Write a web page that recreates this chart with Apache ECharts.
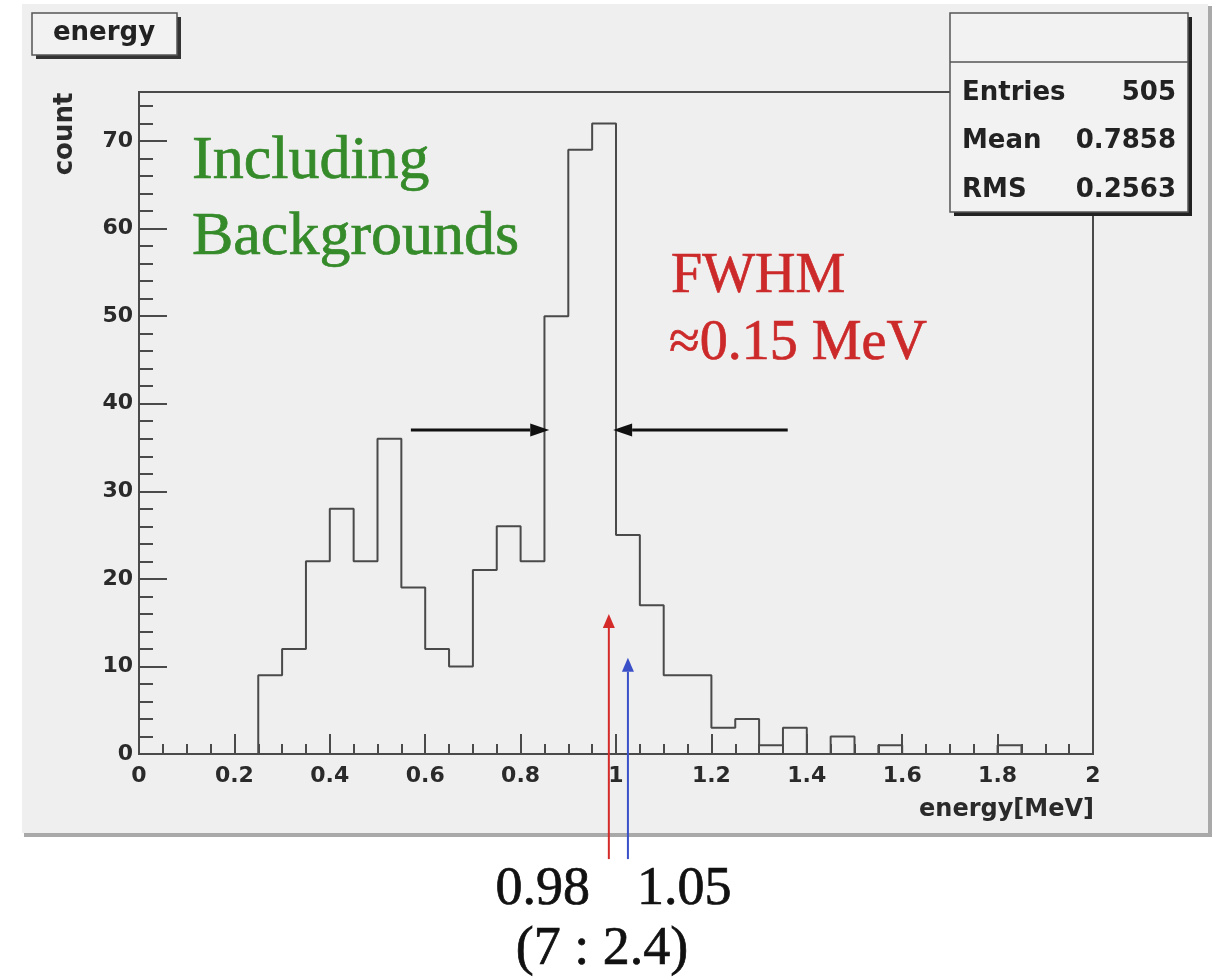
<!DOCTYPE html>
<html lang="en">
<head>
  <meta charset="UTF-8">
  <title>energy</title>
  <script src="https://cdn.jsdelivr.net/npm/echarts@6.0.0/dist/echarts.min.js"></script>
  <style>
    html, body { margin: 0; padding: 0; background: #ffffff; }
    #chart { width: 1217px; height: 978px; }
  </style>
</head>
<body>
  <div id="chart"></div>
  <script>
    // histogram: 40 bins of 0.05 MeV from 0 to 2
    const binLow = 0;
    const binWidth = 0.05;
    const counts = [
      0, 0, 0, 0, 0, 9, 12, 22, 28, 22,
      36, 19, 12, 10, 21, 26, 22, 50, 69, 72,
      25, 17, 9, 9, 3, 4, 1, 3, 0, 2,
      0, 1, 0, 0, 0, 0, 1, 0, 0, 0
    ];
    const xTickLabels = ['0', '0.2', '0.4', '0.6', '0.8', '1', '1.2', '1.4', '1.6', '1.8', '2'];
    const yTickLabels = ['0', '10', '20', '30', '40', '50', '60', '70'];
    const statsRows = [['Entries', '505'], ['Mean', '0.7858'], ['RMS', '0.2563']];

    // annotation arrows [x1, y1, x2, y2] in data units (tip at x2,y2)
    const fwhmArrows = [[0.57, 37, 0.86, 37], [1.36, 37, 0.994, 37]];
    const markerArrows = [[0.985, -12, 0.985, 16], [1.025, -12, 1.025, 11]];
    const markerColors = ['#d42a2a', '#3a4fc8'];

    const histData = [];
    counts.forEach((c, i) => histData.push([binLow + i * binWidth, c]));
    histData.push([binLow + counts.length * binWidth, counts[counts.length - 1]]);

    const axisColor = '#4a4a4a';
    const rootFont = 'DejaVu Sans';

    function arrowShape(a, b, headLen, headW) {
      const dx = b[0] - a[0], dy = b[1] - a[1];
      const len = Math.sqrt(dx * dx + dy * dy);
      const ux = dx / len, uy = dy / len;
      const base = [b[0] - ux * headLen, b[1] - uy * headLen];
      const nx = -uy * headW / 2, ny = ux * headW / 2;
      return { base: base, head: [b, [base[0] + nx, base[1] + ny], [base[0] - nx, base[1] - ny]] };
    }

    function arrowRenderer(colors, lineW, headLen, headW) {
      return function (params, api) {
        const a = api.coord([api.value(0), api.value(1)]);
        const b = api.coord([api.value(2), api.value(3)]);
        const s = arrowShape(a, b, headLen, headW);
        const col = colors[params.dataIndex % colors.length];
        return {
          type: 'group',
          children: [
            { type: 'line', shape: { x1: a[0], y1: a[1], x2: s.base[0], y2: s.base[1] },
              style: { stroke: col, lineWidth: lineW } },
            { type: 'polygon', shape: { points: s.head }, style: { fill: col } }
          ]
        };
      };
    }

    // serif annotation text, slightly heavier like the reference
    function serifText(str, x, y, size, color, align) {
      return { type: 'text', z: 50, x: x, y: y,
        style: { text: str, fill: color, stroke: color, lineWidth: 0.7,
          font: size + 'px "Liberation Serif"', textAlign: align, textVerticalAlign: 'middle' } };
    }

    const chart = echarts.init(document.getElementById('chart'));

    const statsGraphics = [];
    statsRows.forEach((r, i) => {
      const cy = 93 + i * 48.5;
      statsGraphics.push({ type: 'text', z: 102, x: 962, y: cy,
        style: { text: r[0], fill: '#222', font: 'bold 26px "' + rootFont + '"', textAlign: 'left', textVerticalAlign: 'middle' } });
      statsGraphics.push({ type: 'text', z: 102, x: 1176, y: cy,
        style: { text: r[1], fill: '#222', font: 'bold 26px "' + rootFont + '"', textAlign: 'right', textVerticalAlign: 'middle' } });
    });

    const option = {
      backgroundColor: '#ffffff',
      animation: false,
      grid: {
        left: 139, right: 124, top: 92, bottom: 224,
        show: true, backgroundColor: 'transparent',
        borderColor: axisColor, borderWidth: 2
      },
      xAxis: {
        type: 'value', min: 0, max: 2, interval: 0.2,
        axisLine: { show: true, onZero: false, lineStyle: { color: axisColor, width: 2 } },
        axisTick: { show: true, inside: true, length: 20, lineStyle: { color: axisColor, width: 2 } },
        minorTick: { show: true, splitNumber: 4, length: 10, lineStyle: { color: axisColor, width: 2 } },
        splitLine: { show: false },
        axisLabel: {
          margin: 11, color: '#2a2a2a', fontFamily: rootFont, fontWeight: 'bold', fontSize: 22,
          formatter: (v) => xTickLabels[Math.round(v / 0.2)] || ''
        }
      },
      yAxis: [
        {
          type: 'value', min: 0, max: 75.6, interval: 2, position: 'left',
          axisLine: { show: true, onZero: false, lineStyle: { color: axisColor, width: 2 } },
          axisTick: { show: true, inside: true, length: 14, lineStyle: { color: axisColor, width: 2 } },
          splitLine: { show: false },
          axisLabel: {
            margin: 6, color: '#2a2a2a', fontFamily: rootFont, fontWeight: 'bold', fontSize: 22,
            showMaxLabel: false,
            formatter: (v) => {
              const k = Math.round(v / 10);
              return Math.abs(v - k * 10) < 1e-6 ? (yTickLabels[k] || '') : '';
            }
          }
        },
        {
          type: 'value', min: 0, max: 75.6, interval: 10, position: 'left',
          axisLine: { show: false, onZero: false },
          axisTick: { show: true, inside: true, length: 28, lineStyle: { color: axisColor, width: 2 } },
          splitLine: { show: false },
          axisLabel: { show: false }
        }
      ],
      graphic: [
        // pad
        { type: 'rect', z: -10, shape: { x: 22, y: 4, width: 1186, height: 829 }, style: { fill: '#efefef' } },
        { type: 'polyline', z: -9, shape: { points: [[24, 835], [1210, 835], [1210, 6]] },
          style: { stroke: '#a9a9a9', lineWidth: 4, fill: null } },
        // title box
        { type: 'rect', z: 100, shape: { x: 36, y: 17, width: 145, height: 42 }, style: { fill: '#333' } },
        { type: 'rect', z: 101, shape: { x: 32, y: 13, width: 145, height: 42 }, style: { fill: '#f2f2f2', stroke: '#555', lineWidth: 1.5 } },
        { type: 'text', z: 102, x: 104, y: 33,
          style: { text: 'energy', fill: '#222', font: 'bold 26px "' + rootFont + '"', textAlign: 'center', textVerticalAlign: 'middle' } },
        // stats box
        { type: 'rect', z: 100, shape: { x: 954, y: 17, width: 238, height: 199 }, style: { fill: '#222' } },
        { type: 'rect', z: 101, shape: { x: 950, y: 13, width: 238, height: 199 }, style: { fill: '#f2f2f2', stroke: '#555', lineWidth: 1.5 } },
        { type: 'line', z: 102, shape: { x1: 950, y1: 62, x2: 1188, y2: 62 }, style: { stroke: '#555', lineWidth: 1.5 } },
        ...statsGraphics,
        // axis titles
        { type: 'text', z: 50, x: 65, y: 134, rotation: Math.PI / 2,
          style: { text: 'count', fill: '#2a2a2a', font: 'bold 26px "' + rootFont + '"', textAlign: 'center', textVerticalAlign: 'middle' } },
        { type: 'text', z: 50, x: 1094, y: 810,
          style: { text: 'energy[MeV]', fill: '#2a2a2a', font: 'bold 24px "' + rootFont + '"', textAlign: 'right', textVerticalAlign: 'middle' } },
        // annotations
        serifText('Including', 192, 162, 62, '#358a2a', 'left'),
        serifText('Backgrounds', 192, 238, 62, '#358a2a', 'left'),
        serifText('FWHM', 671, 277, 56, '#cc2a2a', 'left'),
        serifText('\u22480.15 MeV', 669, 344, 56, '#cc2a2a', 'left'),
        serifText('0.98', 590, 890, 54, '#111', 'right'),
        serifText('1.05', 637, 890, 54, '#111', 'left'),
        serifText('(7 : 2.4)', 602, 950, 54, '#111', 'center')
      ],
      series: [
        {
          name: 'energy', type: 'line', step: 'end', data: histData,
          symbol: 'none', clip: false,
          lineStyle: { color: '#4a4a4a', width: 2 }
        },
        {
          name: 'fwhm', type: 'custom', data: fwhmArrows, clip: false, z: 5,
          renderItem: arrowRenderer(['#111111'], 3, 19, 13)
        },
        {
          name: 'markers', type: 'custom', data: markerArrows, clip: false, z: 5,
          renderItem: arrowRenderer(markerColors, 2, 14, 12)
        }
      ]
    };

    chart.setOption(option);
  </script>
</body>
</html>
